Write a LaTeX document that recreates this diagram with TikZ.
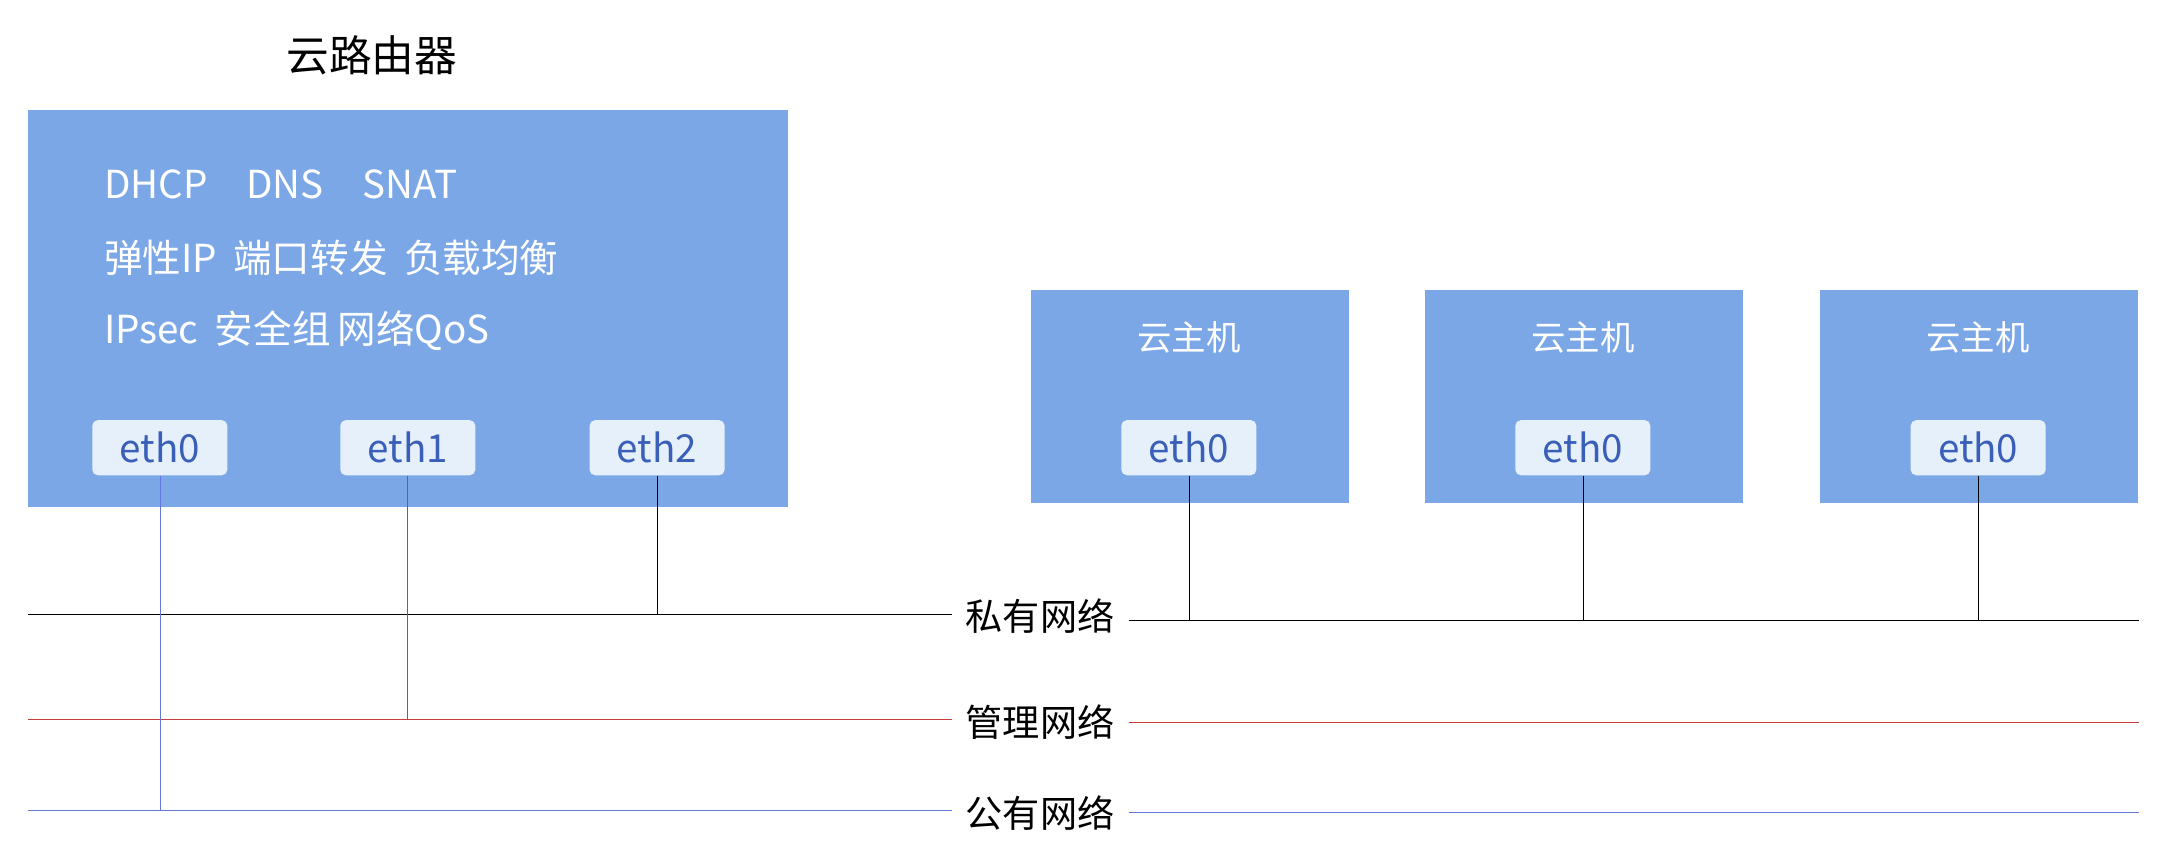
\documentclass[tikz,border=0pt]{standalone}
\usepackage{fontspec}
\setmainfont{Noto Sans CJK SC}
\definecolor{boxblue}{RGB}{123,167,230}
\definecolor{ethfill}{RGB}{230,240,251}
\definecolor{ethtext}{RGB}{58,95,184}
\definecolor{netred}{RGB}{200,60,60}
\definecolor{netblue}{RGB}{100,120,220}
\begin{document}
\begin{tikzpicture}[x=1pt,y=1pt,yscale=-1,
  hostbox/.style={draw=none,fill=boxblue,anchor=north west,inner sep=0pt},
  ethbox/.style={fill=ethfill,text=ethtext,rounded corners=4pt,minimum width=98pt,minimum height=40pt,font=\fontsize{28}{30}\selectfont},
  svctext/.style={anchor=west,text=white,font=\fontsize{28}{30}\selectfont},
  netlabel/.style={font=\fontsize{27}{29}\selectfont}]
\useasboundingbox (0,0) rectangle (1568,616);

% router
\node (title) at (270,40) {\fontsize{31}{33}\selectfont 云路由器};
\node[hostbox,minimum width=552pt,minimum height=288pt] (router) at (20,80) {};
\node[svctext] (svc1) at (72,134) {DHCP\hspace{28pt}DNS\hspace{28pt}SNAT};
\node[svctext] (svc2) at (72,187) {弹性IP\hspace{12pt}端口转发\hspace{12pt}负载均衡};
\node[svctext] (svc3) at (72,240) {IPsec\hspace{12pt}安全组\hspace{5pt}网络QoS};
\node[ethbox] (reth0) at (116,325) {eth0};
\node[ethbox] (reth1) at (296,325) {eth1};
\node[ethbox] (reth2) at (477,325) {eth2};

% hosts
\foreach \i/\x in {1/748,2/1034,3/1321}{
  \node[hostbox,minimum width=231pt,minimum height=155pt] (host\i) at (\x,210) {};
  \node[text=white,font=\fontsize{25}{27}\selectfont] (hname\i) at (\x+115,245) {云主机};
  \node[ethbox] (heth\i) at (\x+115,325) {eth0};
}

% networks
\node[netlabel,inner xsep=10pt] (priv) at (755,447) {私有网络};
\node[netlabel,inner xsep=10pt] (mgmt) at (755,524) {管理网络};
\node[netlabel,inner xsep=10pt] (pub) at (755,590) {公有网络};
\coordinate (privL) at (20,446);
\coordinate (privR) at (1553,450);
\coordinate (mgmtL) at (20,522);
\coordinate (mgmtR) at (1553,524);
\coordinate (pubL) at (20,588);
\coordinate (pubR) at (1553,590);
\draw[black] (privL) -- (priv.west |- privL);
\draw[black] (priv.east |- privR) -- (privR);
\draw[netred] (mgmtL) -- (mgmt.west |- mgmtL);
\draw[netred] (mgmt.east |- mgmtR) -- (mgmtR);
\draw[netblue] (pubL) -- (pub.west |- pubL);
\draw[netblue] (pub.east |- pubR) -- (pubR);

% links
\draw[netblue] (reth0.south) -- (reth0.south |- pubL);
\draw[netred] (reth1.south) -- (reth1.south |- mgmtL);
\draw[black] (reth2.south) -- (reth2.south |- privL);
\foreach \i in {1,2,3}{
  \draw[black] (heth\i.south) -- (heth\i.south |- privR);
}
\end{tikzpicture}
\end{document}
